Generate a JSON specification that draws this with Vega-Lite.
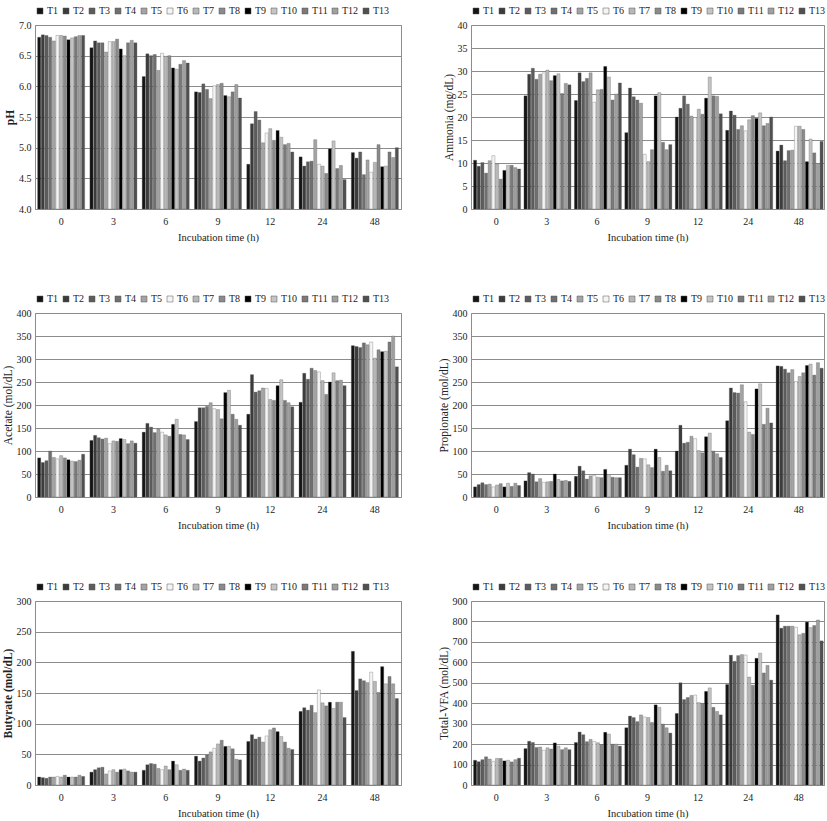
{
 "$schema": "https://vega.github.io/schema/vega-lite/v6.json",
 "padding": {"left": 1, "top": 5, "right": 2, "bottom": 0},
 "config": {
  "font": "Liberation Serif",
  "view": {"stroke": "#8c8c8c", "strokeWidth": 1},
  "axis": {"labelFont": "Liberation Serif", "titleFont": "Liberation Serif", "labelFontSize": 10, "titleFontSize": 10.5, "labelColor": "#222222", "titleColor": "#222222", "titleFontWeight": "normal", "domain": false, "ticks": false, "gridColor": "#8c8c8c", "gridWidth": 1},
  "axisX": {"grid": false, "labelPadding": 7, "titlePadding": 6, "labelAngle": 0},
  "axisY": {"labelPadding": 4, "titlePadding": 3, "titleFontSize": 11.5},
  "legend": {"orient": "top", "direction": "horizontal", "columns": 13, "symbolType": "square", "symbolSize": 36, "symbolStrokeWidth": 0.5, "symbolStrokeColor": "#555555", "labelFont": "Liberation Serif", "labelFontSize": 10, "labelColor": "#222222", "columnPadding": 2, "labelOffset": 2, "offset": 9, "padding": 0}
 },
 "data": {"values": [
  {"t":"0","trt":"T1","ph":6.80,"nh3":10.6,"ac":85,"pr":22,"bu":13,"vfa":121},
  {"t":"0","trt":"T2","ph":6.84,"nh3":9.3,"ac":75,"pr":27,"bu":12,"vfa":114},
  {"t":"0","trt":"T3","ph":6.83,"nh3":10.1,"ac":79,"pr":31,"bu":11,"vfa":124},
  {"t":"0","trt":"T4","ph":6.80,"nh3":7.8,"ac":100,"pr":27,"bu":13,"vfa":138},
  {"t":"0","trt":"T5","ph":6.74,"nh3":10.5,"ac":86,"pr":28,"bu":13,"vfa":127},
  {"t":"0","trt":"T6","ph":6.83,"nh3":11.6,"ac":83,"pr":22,"bu":14,"vfa":116},
  {"t":"0","trt":"T7","ph":6.83,"nh3":9.8,"ac":90,"pr":26,"bu":13,"vfa":130},
  {"t":"0","trt":"T8","ph":6.82,"nh3":6.5,"ac":85,"pr":29,"bu":16,"vfa":130},
  {"t":"0","trt":"T9","ph":6.76,"nh3":8.4,"ac":81,"pr":22,"bu":13,"vfa":118},
  {"t":"0","trt":"T10","ph":6.79,"nh3":9.5,"ac":78,"pr":30,"bu":13,"vfa":121},
  {"t":"0","trt":"T11","ph":6.81,"nh3":9.5,"ac":77,"pr":23,"bu":13,"vfa":113},
  {"t":"0","trt":"T12","ph":6.83,"nh3":9.0,"ac":80,"pr":30,"bu":16,"vfa":124},
  {"t":"0","trt":"T13","ph":6.83,"nh3":8.7,"ac":93,"pr":25,"bu":14,"vfa":131},
  {"t":"3","trt":"T1","ph":6.63,"nh3":24.6,"ac":123,"pr":35,"bu":21,"vfa":178},
  {"t":"3","trt":"T2","ph":6.74,"nh3":29.3,"ac":134,"pr":53,"bu":25,"vfa":214},
  {"t":"3","trt":"T3","ph":6.71,"nh3":30.6,"ac":129,"pr":50,"bu":28,"vfa":208},
  {"t":"3","trt":"T4","ph":6.71,"nh3":28.2,"ac":126,"pr":33,"bu":29,"vfa":184},
  {"t":"3","trt":"T5","ph":6.56,"nh3":29.3,"ac":128,"pr":40,"bu":18,"vfa":186},
  {"t":"3","trt":"T6","ph":6.73,"nh3":29.6,"ac":116,"pr":32,"bu":23,"vfa":170},
  {"t":"3","trt":"T7","ph":6.73,"nh3":30.2,"ac":122,"pr":33,"bu":25,"vfa":182},
  {"t":"3","trt":"T8","ph":6.77,"nh3":27.9,"ac":121,"pr":34,"bu":21,"vfa":176},
  {"t":"3","trt":"T9","ph":6.61,"nh3":29.0,"ac":127,"pr":50,"bu":25,"vfa":206},
  {"t":"3","trt":"T10","ph":6.50,"nh3":29.4,"ac":125,"pr":38,"bu":26,"vfa":190},
  {"t":"3","trt":"T11","ph":6.71,"nh3":25.1,"ac":116,"pr":35,"bu":23,"vfa":173},
  {"t":"3","trt":"T12","ph":6.75,"nh3":27.3,"ac":122,"pr":36,"bu":21,"vfa":182},
  {"t":"3","trt":"T13","ph":6.71,"nh3":27.0,"ac":117,"pr":34,"bu":21,"vfa":173},
  {"t":"6","trt":"T1","ph":6.16,"nh3":23.6,"ac":141,"pr":45,"bu":24,"vfa":208},
  {"t":"6","trt":"T2","ph":6.53,"nh3":29.6,"ac":160,"pr":67,"bu":33,"vfa":259},
  {"t":"6","trt":"T3","ph":6.50,"nh3":27.7,"ac":152,"pr":57,"bu":35,"vfa":246},
  {"t":"6","trt":"T4","ph":6.52,"nh3":28.4,"ac":140,"pr":39,"bu":34,"vfa":212},
  {"t":"6","trt":"T5","ph":6.26,"nh3":29.6,"ac":148,"pr":46,"bu":27,"vfa":223},
  {"t":"6","trt":"T6","ph":6.54,"nh3":23.2,"ac":141,"pr":47,"bu":25,"vfa":213},
  {"t":"6","trt":"T7","ph":6.49,"nh3":25.9,"ac":135,"pr":43,"bu":31,"vfa":207},
  {"t":"6","trt":"T8","ph":6.50,"nh3":26.0,"ac":132,"pr":42,"bu":25,"vfa":198},
  {"t":"6","trt":"T9","ph":6.30,"nh3":31.0,"ac":158,"pr":60,"bu":39,"vfa":258},
  {"t":"6","trt":"T10","ph":6.28,"nh3":28.7,"ac":169,"pr":49,"bu":33,"vfa":249},
  {"t":"6","trt":"T11","ph":6.36,"nh3":23.7,"ac":136,"pr":43,"bu":24,"vfa":200},
  {"t":"6","trt":"T12","ph":6.42,"nh3":25.0,"ac":135,"pr":42,"bu":26,"vfa":200},
  {"t":"6","trt":"T13","ph":6.38,"nh3":27.4,"ac":125,"pr":42,"bu":24,"vfa":190},
  {"t":"9","trt":"T1","ph":5.91,"nh3":16.6,"ac":164,"pr":69,"bu":47,"vfa":280},
  {"t":"9","trt":"T2","ph":5.90,"nh3":26.3,"ac":194,"pr":104,"bu":39,"vfa":337},
  {"t":"9","trt":"T3","ph":6.04,"nh3":24.4,"ac":194,"pr":92,"bu":44,"vfa":330},
  {"t":"9","trt":"T4","ph":5.95,"nh3":23.7,"ac":197,"pr":65,"bu":49,"vfa":310},
  {"t":"9","trt":"T5","ph":5.80,"nh3":23.0,"ac":205,"pr":84,"bu":54,"vfa":343},
  {"t":"9","trt":"T6","ph":6.01,"nh3":11.9,"ac":192,"pr":83,"bu":60,"vfa":333},
  {"t":"9","trt":"T7","ph":6.03,"nh3":10.3,"ac":190,"pr":70,"bu":67,"vfa":330},
  {"t":"9","trt":"T8","ph":6.05,"nh3":12.9,"ac":170,"pr":64,"bu":73,"vfa":306},
  {"t":"9","trt":"T9","ph":5.85,"nh3":24.6,"ac":227,"pr":104,"bu":63,"vfa":392},
  {"t":"9","trt":"T10","ph":5.83,"nh3":25.3,"ac":232,"pr":86,"bu":63,"vfa":380},
  {"t":"9","trt":"T11","ph":5.91,"nh3":14.5,"ac":180,"pr":56,"bu":59,"vfa":298},
  {"t":"9","trt":"T12","ph":6.03,"nh3":12.9,"ac":169,"pr":69,"bu":42,"vfa":280},
  {"t":"9","trt":"T13","ph":5.81,"nh3":14.0,"ac":156,"pr":57,"bu":41,"vfa":254},
  {"t":"12","trt":"T1","ph":4.73,"nh3":20.0,"ac":180,"pr":100,"bu":71,"vfa":350},
  {"t":"12","trt":"T2","ph":5.39,"nh3":21.9,"ac":266,"pr":156,"bu":82,"vfa":500},
  {"t":"12","trt":"T3","ph":5.59,"nh3":24.6,"ac":228,"pr":117,"bu":75,"vfa":418},
  {"t":"12","trt":"T4","ph":5.45,"nh3":22.8,"ac":231,"pr":119,"bu":78,"vfa":428},
  {"t":"12","trt":"T5","ph":5.08,"nh3":20.2,"ac":237,"pr":132,"bu":70,"vfa":438},
  {"t":"12","trt":"T6","ph":5.24,"nh3":19.9,"ac":236,"pr":127,"bu":80,"vfa":440},
  {"t":"12","trt":"T7","ph":5.31,"nh3":21.7,"ac":212,"pr":101,"bu":90,"vfa":403},
  {"t":"12","trt":"T8","ph":5.12,"nh3":20.6,"ac":210,"pr":96,"bu":93,"vfa":400},
  {"t":"12","trt":"T9","ph":5.28,"nh3":24.1,"ac":242,"pr":131,"bu":87,"vfa":458},
  {"t":"12","trt":"T10","ph":5.17,"nh3":28.7,"ac":255,"pr":139,"bu":79,"vfa":475},
  {"t":"12","trt":"T11","ph":5.05,"nh3":24.6,"ac":210,"pr":100,"bu":70,"vfa":380},
  {"t":"12","trt":"T12","ph":5.07,"nh3":24.5,"ac":205,"pr":94,"bu":60,"vfa":360},
  {"t":"12","trt":"T13","ph":4.93,"nh3":20.7,"ac":196,"pr":86,"bu":58,"vfa":343},
  {"t":"24","trt":"T1","ph":4.85,"nh3":17.1,"ac":206,"pr":166,"bu":120,"vfa":492},
  {"t":"24","trt":"T2","ph":4.70,"nh3":21.3,"ac":269,"pr":237,"bu":126,"vfa":635},
  {"t":"24","trt":"T3","ph":4.77,"nh3":20.4,"ac":256,"pr":227,"bu":122,"vfa":605},
  {"t":"24","trt":"T4","ph":4.78,"nh3":17.3,"ac":280,"pr":226,"bu":130,"vfa":633},
  {"t":"24","trt":"T5","ph":5.13,"nh3":18.1,"ac":275,"pr":244,"bu":118,"vfa":638},
  {"t":"24","trt":"T6","ph":4.73,"nh3":17.0,"ac":272,"pr":207,"bu":155,"vfa":636},
  {"t":"24","trt":"T7","ph":4.70,"nh3":19.4,"ac":253,"pr":141,"bu":134,"vfa":528},
  {"t":"24","trt":"T8","ph":4.58,"nh3":20.3,"ac":223,"pr":136,"bu":129,"vfa":488},
  {"t":"24","trt":"T9","ph":4.98,"nh3":19.7,"ac":250,"pr":235,"bu":135,"vfa":620},
  {"t":"24","trt":"T10","ph":5.11,"nh3":20.9,"ac":270,"pr":246,"bu":125,"vfa":645},
  {"t":"24","trt":"T11","ph":4.66,"nh3":18.1,"ac":253,"pr":158,"bu":135,"vfa":548},
  {"t":"24","trt":"T12","ph":4.71,"nh3":18.6,"ac":254,"pr":193,"bu":135,"vfa":585},
  {"t":"24","trt":"T13","ph":4.48,"nh3":20.0,"ac":242,"pr":161,"bu":110,"vfa":513},
  {"t":"48","trt":"T1","ph":4.92,"nh3":12.6,"ac":329,"pr":285,"bu":218,"vfa":832},
  {"t":"48","trt":"T2","ph":4.83,"nh3":13.9,"ac":327,"pr":284,"bu":154,"vfa":767},
  {"t":"48","trt":"T3","ph":4.93,"nh3":10.5,"ac":325,"pr":278,"bu":173,"vfa":777},
  {"t":"48","trt":"T4","ph":4.56,"nh3":12.7,"ac":335,"pr":270,"bu":170,"vfa":777},
  {"t":"48","trt":"T5","ph":4.80,"nh3":12.8,"ac":331,"pr":277,"bu":167,"vfa":777},
  {"t":"48","trt":"T6","ph":4.60,"nh3":18.0,"ac":337,"pr":251,"bu":184,"vfa":772},
  {"t":"48","trt":"T7","ph":4.76,"nh3":18.0,"ac":302,"pr":262,"bu":169,"vfa":735},
  {"t":"48","trt":"T8","ph":5.05,"nh3":17.3,"ac":320,"pr":270,"bu":151,"vfa":742},
  {"t":"48","trt":"T9","ph":4.69,"nh3":10.3,"ac":316,"pr":286,"bu":193,"vfa":797},
  {"t":"48","trt":"T10","ph":4.70,"nh3":15.2,"ac":317,"pr":289,"bu":165,"vfa":770},
  {"t":"48","trt":"T11","ph":4.93,"nh3":12.2,"ac":337,"pr":265,"bu":177,"vfa":780},
  {"t":"48","trt":"T12","ph":4.84,"nh3":9.9,"ac":350,"pr":292,"bu":165,"vfa":807},
  {"t":"48","trt":"T13","ph":5.00,"nh3":14.7,"ac":283,"pr":280,"bu":141,"vfa":705}
 ]},
 "columns": 2,
 "spacing": {"row": 50, "column": 35},
 "resolve": {"scale": {"y": "independent", "color": "independent"}, "legend": {"color": "independent"}},
 "concat": [
  {"width": 366, "height": 184,
   "mark": {"type": "bar", "stroke": "#555555", "strokeWidth": 0.3},
   "encoding": {
    "x": {"field": "t", "type": "nominal", "sort": ["0","3","6","9","12","24","48"], "scale": {"paddingInner": 0.1, "paddingOuter": 0.05}, "axis": {"title": "Incubation time (h)"}},
    "xOffset": {"field": "trt", "type": "nominal", "sort": ["T1","T2","T3","T4","T5","T6","T7","T8","T9","T10","T11","T12","T13"], "scale": {"paddingInner": 0.15}},
    "y": {"field": "ph", "type": "quantitative", "scale": {"domain": [4, 7], "zero": false, "nice": false}, "axis": {"title": "pH", "titleFontWeight": "bold", "values": [4, 4.5, 5, 5.5, 6, 6.5, 7], "format": ".1f"}},
    "y2": {"datum": 4},
    "color": {"field": "trt", "type": "nominal", "sort": ["T1","T2","T3","T4","T5","T6","T7","T8","T9","T10","T11","T12","T13"], "scale": {"domain": ["T1","T2","T3","T4","T5","T6","T7","T8","T9","T10","T11","T12","T13"], "range": ["#151515","#3c3c3c","#5c5c5c","#707070","#a4a4a4","#f4f4f4","#b8b8b8","#8a8a8a","#000000","#c4c4c4","#7a7a7a","#a0a0a0","#505050"]}, "legend": {"title": null}}
   }},
  {"width": 353, "height": 184,
   "mark": {"type": "bar", "stroke": "#555555", "strokeWidth": 0.3},
   "encoding": {
    "x": {"field": "t", "type": "nominal", "sort": ["0","3","6","9","12","24","48"], "scale": {"paddingInner": 0.1, "paddingOuter": 0.05}, "axis": {"title": "Incubation time (h)"}},
    "xOffset": {"field": "trt", "type": "nominal", "sort": ["T1","T2","T3","T4","T5","T6","T7","T8","T9","T10","T11","T12","T13"], "scale": {"paddingInner": 0.15}},
    "y": {"field": "nh3", "type": "quantitative", "scale": {"domain": [0, 40], "nice": false}, "axis": {"title": "Ammonia (mg/dL)", "values": [0, 5, 10, 15, 20, 25, 30, 35, 40]}},
    "color": {"field": "trt", "type": "nominal", "sort": ["T1","T2","T3","T4","T5","T6","T7","T8","T9","T10","T11","T12","T13"], "scale": {"domain": ["T1","T2","T3","T4","T5","T6","T7","T8","T9","T10","T11","T12","T13"], "range": ["#151515","#3c3c3c","#5c5c5c","#707070","#a4a4a4","#f4f4f4","#b8b8b8","#8a8a8a","#000000","#c4c4c4","#7a7a7a","#a0a0a0","#505050"]}, "legend": {"title": null}}
   }},
  {"width": 366, "height": 184,
   "mark": {"type": "bar", "stroke": "#555555", "strokeWidth": 0.3},
   "encoding": {
    "x": {"field": "t", "type": "nominal", "sort": ["0","3","6","9","12","24","48"], "scale": {"paddingInner": 0.1, "paddingOuter": 0.05}, "axis": {"title": "Incubation time (h)"}},
    "xOffset": {"field": "trt", "type": "nominal", "sort": ["T1","T2","T3","T4","T5","T6","T7","T8","T9","T10","T11","T12","T13"], "scale": {"paddingInner": 0.15}},
    "y": {"field": "ac", "type": "quantitative", "scale": {"domain": [0, 400], "nice": false}, "axis": {"title": "Acetate (mol/dL)", "values": [0, 50, 100, 150, 200, 250, 300, 350, 400]}},
    "color": {"field": "trt", "type": "nominal", "sort": ["T1","T2","T3","T4","T5","T6","T7","T8","T9","T10","T11","T12","T13"], "scale": {"domain": ["T1","T2","T3","T4","T5","T6","T7","T8","T9","T10","T11","T12","T13"], "range": ["#151515","#3c3c3c","#5c5c5c","#707070","#a4a4a4","#f4f4f4","#b8b8b8","#8a8a8a","#000000","#c4c4c4","#7a7a7a","#a0a0a0","#505050"]}, "legend": {"title": null}}
   }},
  {"width": 353, "height": 184,
   "mark": {"type": "bar", "stroke": "#555555", "strokeWidth": 0.3},
   "encoding": {
    "x": {"field": "t", "type": "nominal", "sort": ["0","3","6","9","12","24","48"], "scale": {"paddingInner": 0.1, "paddingOuter": 0.05}, "axis": {"title": "Incubation time (h)"}},
    "xOffset": {"field": "trt", "type": "nominal", "sort": ["T1","T2","T3","T4","T5","T6","T7","T8","T9","T10","T11","T12","T13"], "scale": {"paddingInner": 0.15}},
    "y": {"field": "pr", "type": "quantitative", "scale": {"domain": [0, 400], "nice": false}, "axis": {"title": "Propionate (mol/dL)", "values": [0, 50, 100, 150, 200, 250, 300, 350, 400]}},
    "color": {"field": "trt", "type": "nominal", "sort": ["T1","T2","T3","T4","T5","T6","T7","T8","T9","T10","T11","T12","T13"], "scale": {"domain": ["T1","T2","T3","T4","T5","T6","T7","T8","T9","T10","T11","T12","T13"], "range": ["#151515","#3c3c3c","#5c5c5c","#707070","#a4a4a4","#f4f4f4","#b8b8b8","#8a8a8a","#000000","#c4c4c4","#7a7a7a","#a0a0a0","#505050"]}, "legend": {"title": null}}
   }},
  {"width": 366, "height": 184,
   "mark": {"type": "bar", "stroke": "#555555", "strokeWidth": 0.3},
   "encoding": {
    "x": {"field": "t", "type": "nominal", "sort": ["0","3","6","9","12","24","48"], "scale": {"paddingInner": 0.1, "paddingOuter": 0.05}, "axis": {"title": "Incubation time (h)"}},
    "xOffset": {"field": "trt", "type": "nominal", "sort": ["T1","T2","T3","T4","T5","T6","T7","T8","T9","T10","T11","T12","T13"], "scale": {"paddingInner": 0.15}},
    "y": {"field": "bu", "type": "quantitative", "scale": {"domain": [0, 300], "nice": false}, "axis": {"title": "Butyrate (mol/dL)", "titleFontWeight": "bold", "values": [0, 50, 100, 150, 200, 250, 300]}},
    "color": {"field": "trt", "type": "nominal", "sort": ["T1","T2","T3","T4","T5","T6","T7","T8","T9","T10","T11","T12","T13"], "scale": {"domain": ["T1","T2","T3","T4","T5","T6","T7","T8","T9","T10","T11","T12","T13"], "range": ["#151515","#3c3c3c","#5c5c5c","#707070","#a4a4a4","#f4f4f4","#b8b8b8","#8a8a8a","#000000","#c4c4c4","#7a7a7a","#a0a0a0","#505050"]}, "legend": {"title": null}}
   }},
  {"width": 353, "height": 184,
   "mark": {"type": "bar", "stroke": "#555555", "strokeWidth": 0.3},
   "encoding": {
    "x": {"field": "t", "type": "nominal", "sort": ["0","3","6","9","12","24","48"], "scale": {"paddingInner": 0.1, "paddingOuter": 0.05}, "axis": {"title": "Incubation time (h)"}},
    "xOffset": {"field": "trt", "type": "nominal", "sort": ["T1","T2","T3","T4","T5","T6","T7","T8","T9","T10","T11","T12","T13"], "scale": {"paddingInner": 0.15}},
    "y": {"field": "vfa", "type": "quantitative", "scale": {"domain": [0, 900], "nice": false}, "axis": {"title": "Total-VFA (mol/dL)", "values": [0, 100, 200, 300, 400, 500, 600, 700, 800, 900]}},
    "color": {"field": "trt", "type": "nominal", "sort": ["T1","T2","T3","T4","T5","T6","T7","T8","T9","T10","T11","T12","T13"], "scale": {"domain": ["T1","T2","T3","T4","T5","T6","T7","T8","T9","T10","T11","T12","T13"], "range": ["#151515","#3c3c3c","#5c5c5c","#707070","#a4a4a4","#f4f4f4","#b8b8b8","#8a8a8a","#000000","#c4c4c4","#7a7a7a","#a0a0a0","#505050"]}, "legend": {"title": null}}
   }}
 ]
}
